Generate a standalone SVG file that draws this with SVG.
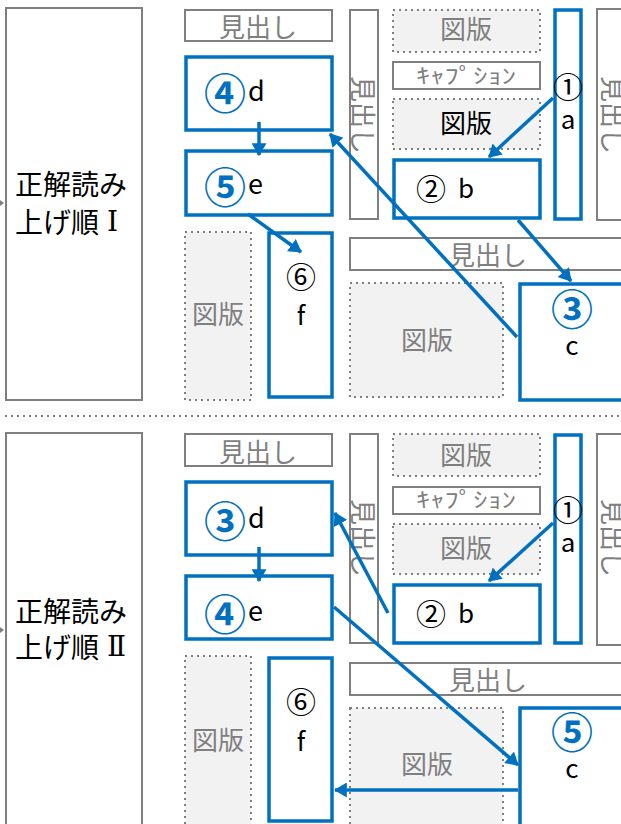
<svg xmlns="http://www.w3.org/2000/svg" width="621" height="824" viewBox="0 0 621 824">
<style>
.g{fill:#fff;stroke:#7f7f7f;stroke-width:2}
.gd{fill:#f2f2f2;stroke:#7f7f7f;stroke-width:2;stroke-dasharray:2 4}
.bl{fill:#fff;stroke:#0070C0;stroke-width:3.5}
text{font-family:"Noto Sans CJK JP","Noto Sans",sans-serif;dominant-baseline:central;text-anchor:middle}
.gt{fill:#7f7f7f;font-size:26px}
.kt{fill:#000;font-size:26px}
.lt{fill:#000;font-size:27px;text-anchor:start}
.ct{fill:#000;font-size:30px}
.num{fill:#0070C0;font-weight:bold;font-size:42px}
.cap{fill:#7f7f7f;font-size:21px}
.big{fill:#000;font-size:28px;text-anchor:start}
.rn{font-family:"DejaVu Serif","Liberation Serif",serif}
.conn line{stroke:#0070C0;stroke-width:3.5;marker-end:url(#ah)}
</style>
<defs>
<marker id="ah" viewBox="0 0 12 14" refX="11" refY="7" markerWidth="13" markerHeight="15" markerUnits="userSpaceOnUse" orient="auto"><path d="M0,0 L12,7 L0,14 z" fill="#0070C0"/></marker>
</defs>
<rect width="621" height="824" fill="#fff"/>
<line x1="5" y1="416" x2="621" y2="416" stroke="#7f7f7f" stroke-width="2" stroke-dasharray="2 4"/>

<!-- ===== Panel I ===== -->
<g id="label1"><rect class="g" x="6" y="8" width="136" height="392"/><path d="M0,200 L4,203 L0,206 z" fill="#7f7f7f"/><text class="big" x="15" y="183">正解読み</text><text class="big" x="15" y="221">上げ順<tspan class="rn" dx="8">Ⅰ</tspan></text></g>
<g id="p1-head1"><rect class="g" x="185" y="10" width="147" height="31"/><text class="gt" x="258" y="25">見出し</text></g>
<g id="p1-vhead"><rect class="g" x="350" y="10" width="28" height="209"/><text class="gt" transform="translate(364,115) rotate(90)">見出し</text></g>
<g id="p1-fig1"><rect class="gd" x="393" y="10" width="147" height="42"/><text class="gt" x="466" y="27">図版</text></g>
<g id="p1-cap"><rect class="g" x="393" y="62" width="147" height="27"/><text class="cap" x="466" y="74" textLength="100" lengthAdjust="spacingAndGlyphs">ｷｬﾌﾟｼｮﾝ</text></g>
<g id="p1-fig2"><rect class="gd" x="393" y="99" width="147" height="50"/><text class="kt" x="466" y="121">図版</text></g>
<g id="p1-rhead"><rect class="g" x="597" y="9" width="40" height="211"/><text class="gt" transform="translate(614,115) rotate(90)">見出し</text></g>
<g id="p1-hhead"><rect class="g" x="350" y="238" width="280" height="32"/><text class="gt" x="488" y="253">見出し</text></g>
<g id="p1-figbig"><rect class="gd" x="350" y="283" width="153" height="114"/><text class="gt" x="427" y="338">図版</text></g>
<g id="p1-figleft"><rect class="gd" x="185" y="232" width="66" height="168"/><text class="gt" x="218" y="312">図版</text></g>
<g id="p1-a"><rect class="bl" x="555" y="10" width="26" height="209"/><text class="ct" x="568" y="85">①</text><text class="kt" x="568" y="117">a</text></g>
<g id="p1-b"><rect class="bl" x="394" y="160" width="146" height="58"/><text class="ct" x="431" y="187">②</text><text class="kt" x="466" y="186">b</text></g>
<g id="p1-c"><rect class="bl" x="520" y="284" width="110" height="116"/><text class="num" x="572" y="306">③</text><text class="kt" x="572" y="343">c</text></g>
<g id="p1-d"><rect class="bl" x="186" y="57" width="146" height="73"/><text class="num" x="225" y="90">④</text><text class="lt" x="248" y="89">d</text></g>
<g id="p1-e"><rect class="bl" x="186" y="151" width="146" height="64"/><text class="num" x="225" y="184">⑤</text><text class="lt" x="248" y="182">e</text></g>
<g id="p1-f"><rect class="bl" x="269" y="233" width="63" height="164"/><text class="ct" x="301" y="275">⑥</text><text class="kt" x="301" y="313">f</text></g>

<!-- ===== Panel II ===== -->
<g id="label2"><rect class="g" x="6" y="433" width="136" height="400"/><path d="M0,627 L4,630 L0,633 z" fill="#7f7f7f"/><text class="big" x="15" y="610">正解読み</text><text class="big" x="15" y="646">上げ順<tspan class="rn" dx="8">Ⅱ</tspan></text></g>
<g id="p2-head1"><rect class="g" x="185" y="434" width="147" height="32"/><text class="gt" x="258" y="450">見出し</text></g>
<g id="p2-vhead"><rect class="g" x="350" y="434" width="28" height="209"/><text class="gt" transform="translate(364,538) rotate(90)">見出し</text></g>
<g id="p2-fig1"><rect class="gd" x="393" y="434" width="147" height="42"/><text class="gt" x="466" y="453">図版</text></g>
<g id="p2-cap"><rect class="g" x="393" y="487" width="147" height="27"/><text class="cap" x="466" y="498" textLength="100" lengthAdjust="spacingAndGlyphs">ｷｬﾌﾟｼｮﾝ</text></g>
<g id="p2-fig2"><rect class="gd" x="393" y="524" width="147" height="50"/><text class="gt" x="466" y="546">図版</text></g>
<g id="p2-rhead"><rect class="g" x="597" y="434" width="40" height="211"/><text class="gt" transform="translate(614,538) rotate(90)">見出し</text></g>
<g id="p2-hhead"><rect class="g" x="350" y="663" width="280" height="32"/><text class="gt" x="488" y="678">見出し</text></g>
<g id="p2-figbig"><rect class="gd" x="350" y="708" width="153" height="130"/><text class="gt" x="427" y="762">図版</text></g>
<g id="p2-figleft"><rect class="gd" x="185" y="656" width="66" height="180"/><text class="gt" x="218" y="738">図版</text></g>
<g id="p2-a"><rect class="bl" x="555" y="435" width="26" height="208"/><text class="ct" x="568" y="508">①</text><text class="kt" x="568" y="540">a</text></g>
<g id="p2-b"><rect class="bl" x="394" y="585" width="146" height="58"/><text class="ct" x="431" y="612">②</text><text class="kt" x="466" y="611">b</text></g>
<g id="p2-c"><rect class="bl" x="520" y="708" width="110" height="130"/><text class="num" x="572" y="729">⑤</text><text class="kt" x="572" y="766">c</text></g>
<g id="p2-d"><rect class="bl" x="186" y="482" width="146" height="73"/><text class="num" x="225" y="518">③</text><text class="lt" x="248" y="516">d</text></g>
<g id="p2-e"><rect class="bl" x="186" y="576" width="146" height="63"/><text class="num" x="225" y="611">④</text><text class="lt" x="248" y="609">e</text></g>
<g id="p2-f"><rect class="bl" x="269" y="658" width="63" height="163"/><text class="ct" x="301" y="700">⑥</text><text class="kt" x="301" y="739">f</text></g>

<g id="connectors" class="conn">
<line x1="553" y1="98" x2="489" y2="157"/>
<line x1="518" y1="220" x2="571" y2="281"/>
<line x1="517" y1="337" x2="330" y2="134"/>
<line x1="259" y1="122" x2="259" y2="155"/>
<line x1="248" y1="214" x2="301" y2="252"/>
<line x1="553" y1="523" x2="489" y2="581"/>
<line x1="388" y1="613" x2="335" y2="513"/>
<line x1="259" y1="547" x2="259" y2="581"/>
<line x1="334" y1="607" x2="518" y2="765"/>
<line x1="518" y1="790" x2="335" y2="790"/>
</g>
</svg>
